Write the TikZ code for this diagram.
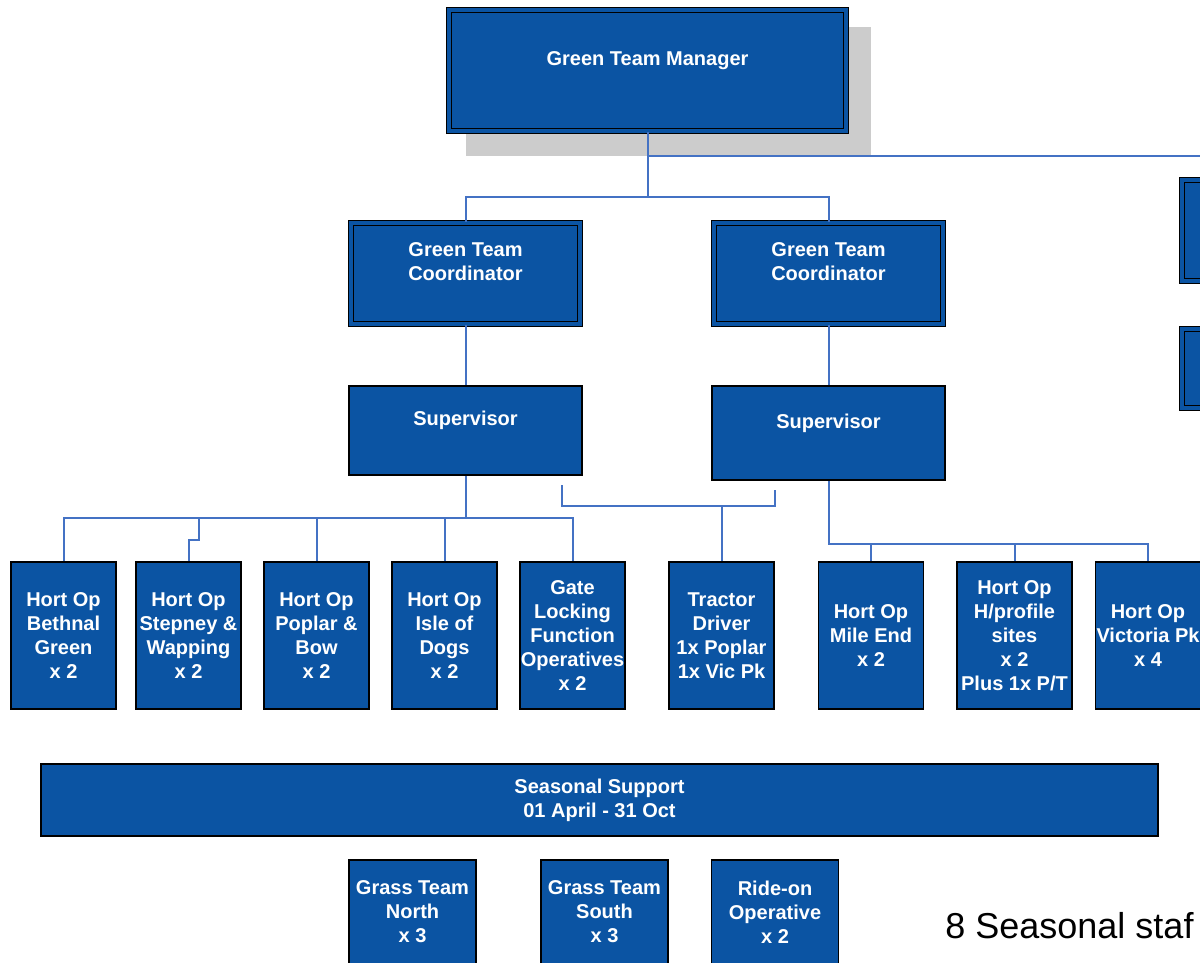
\documentclass[tikz,border=0pt]{standalone}
\usepackage{fontspec}
\setmainfont{Liberation Sans}
\usetikzlibrary{positioning}

\definecolor{boxblue}{RGB}{11,84,163}
\definecolor{linkblue}{RGB}{68,114,196}
\definecolor{shadowgrey}{RGB}{204,204,204}

\begin{document}
\begin{tikzpicture}[x = 0.5pt, y = -0.5pt,
		post/.style = {draw = black, line width = 0.8pt, fill = boxblue, text = white, align = center,
			inner sep = 0pt, font = \bfseries\fontsize{10}{12}\selectfont},
		seniorpost/.style = {post, line width = 0.7pt, double = boxblue, double distance = 1.6pt},
		hortop/.style = {post, minimum width = 52.5pt, minimum height = 73.5pt},
		link/.style = {draw = linkblue, line width = 1pt}]
	\def\rowY{635.5};
	\def\leftBus{518};
	\def\rightBus{544};

	\useasboundingbox (0,0) rectangle (1200,963);
	\clip (0,0) rectangle (1200,963);

	% management
	\fill [shadowgrey] (466,27) rectangle (871,156);
	\node [seniorpost, minimum width = 198.5pt, minimum height = 60.5pt] (manager) at (647.5,70.5) {Green Team Manager\\ \mbox{}};
	\node [seniorpost, minimum width = 114.5pt, minimum height = 50.5pt] (coordL) at (465.5,273.5) {Green Team\\Coordinator\\ \mbox{}};
	\node [seniorpost, minimum width = 114.5pt, minimum height = 50.5pt] (coordR) at (828.5,273.5) {Green Team\\Coordinator\\ \mbox{}};
	\node [seniorpost, minimum width = 59pt, minimum height = 50.5pt] (sideA) at (1241,230.5) {};
	\node [seniorpost, minimum width = 59pt, minimum height = 39.5pt] (sideB) at (1241,368.5) {};
	\node [post, minimum width = 116.5pt, minimum height = 44.5pt] (supL) at (465.5,430.5) {Supervisor\\ \mbox{}};
	\node [post, minimum width = 116.5pt, minimum height = 47pt] (supR) at (828.5,433) {Supervisor\\ \mbox{}};

	% operatives
	\node [hortop] (bethnal) at (63.5,\rowY) {Hort Op\\Bethnal\\Green\\x 2};
	\node [hortop] (stepney) at (188.5,\rowY) {Hort Op\\Stepney \&\\Wapping\\x 2};
	\node [hortop] (poplar) at (316.5,\rowY) {Hort Op\\Poplar \&\\Bow\\x 2};
	\node [hortop] (isle) at (444.5,\rowY) {Hort Op\\Isle of\\Dogs\\x 2};
	\node [hortop] (gate) at (572.5,\rowY) {Gate\\Locking\\Function\\Operatives\\x 2};
	\node [hortop] (tractor) at (721.5,\rowY) {Tractor\\Driver\\1x Poplar\\1x Vic Pk};
	\node [hortop] (mileend) at (871,\rowY) {Hort Op\\Mile End\\x 2};
	\node [hortop, minimum width = 57.5pt] (hprofile) at (1014.5,\rowY) {Hort Op\\H/profile\\sites\\x 2\\Plus 1x P/T};
	\node [hortop] (victoria) at (1148,\rowY) {Hort Op\\Victoria Pk\\x 4};

	% seasonal
	\node [post, minimum width = 558.5pt, minimum height = 36pt] (seasonal) at (599.5,800) {Seasonal Support\\01 April - 31 Oct};
	\node [post, minimum width = 63.5pt, minimum height = 52pt] (grassN) at (412.5,912) {Grass Team\\North\\x 3};
	\node [post, minimum width = 63.5pt, minimum height = 52pt] (grassS) at (604.5,912) {Grass Team\\South\\x 3};
	\node [post, minimum width = 63.5pt, minimum height = 52pt] (rideon) at (775,912) {Ride-on\\Operative\\x 2};
	\node [anchor = west, inner sep = 0pt, font = \fontsize{18}{21}\selectfont] (staffnote) at (945,926) {8 Seasonal staf};

	% connectors
	\coordinate (offpage) at (1215,156);
	\coordinate (mgrjoin) at (647.5,197);
	\coordinate (brkL) at (562,485);
	\coordinate (brkR) at (775,490);
	\coordinate (tracjoin) at (721.5,506);

	\draw [link] (manager.south) -- (mgrjoin) -| (coordL.north);
	\draw [link] (mgrjoin) -| (coordR.north);
	\draw [link] (manager.south |- offpage) -- (offpage);
	\draw [link] (coordL.south) -- (supL.north);
	\draw [link] (coordR.south) -- (supR.north);

	\draw [link] (supL.south) -- (465.5,\leftBus) coordinate (lbus);
	\draw [link] (bethnal.north) |- (lbus) -| (gate.north);
	\draw [link] (stepney.north) -- ++(0,-21) -| (199,\leftBus);
	\draw [link] (poplar.north) -- (poplar.north |- lbus);
	\draw [link] (isle.north) -- (isle.north |- lbus);

	\draw [link] (brkL) |- (tracjoin) -| (brkR);
	\draw [link] (tracjoin) -- (tractor.north);

	\draw [link] (supR.south) |- (victoria.north |- 0,\rightBus) coordinate (rbus) -- (victoria.north);
	\draw [link] (mileend.north) -- (mileend.north |- rbus);
	\draw [link] (hprofile.north) -- (hprofile.north |- rbus);
\end{tikzpicture}
\end{document}
